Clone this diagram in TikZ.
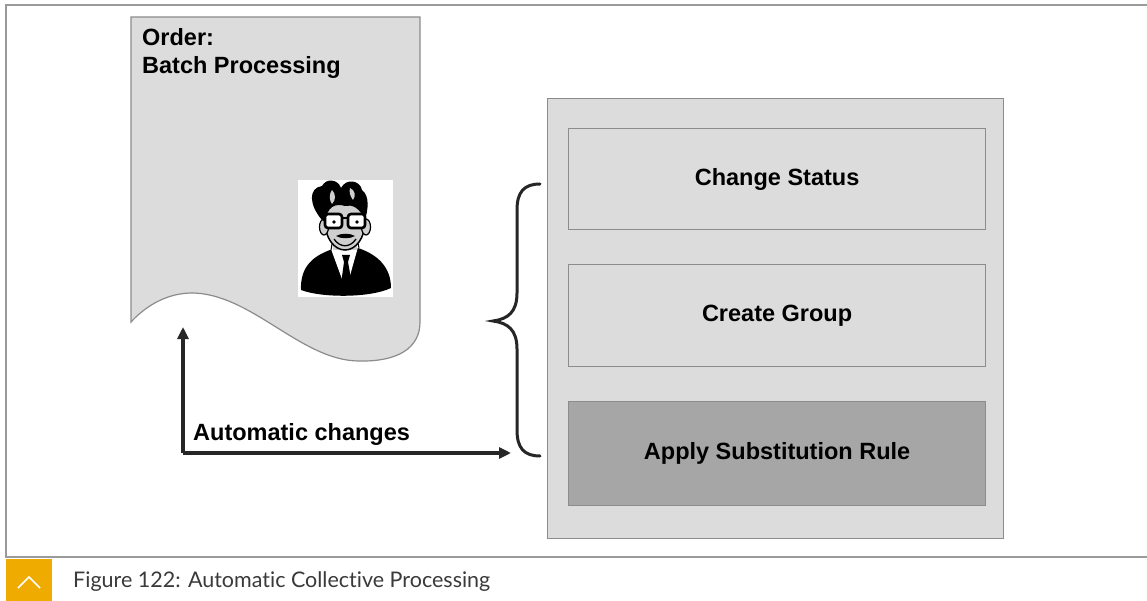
\documentclass[tikz,border=0pt]{standalone}
\usepackage{fontspec}
\setmainfont{Liberation Sans}
\newfontfamily\captionfont[Ligatures=NoCommon]{Lato}
\usetikzlibrary{arrows.meta}

\definecolor{panelfill}{HTML}{DCDCDC}
\definecolor{panelline}{HTML}{8C8C8C}
\definecolor{activefill}{HTML}{A6A6A6}
\definecolor{frameline}{HTML}{9A9A9A}
\definecolor{inkdark}{HTML}{262626}
\definecolor{sapgold}{HTML}{F0AB00}
\definecolor{captiontext}{HTML}{3A3A3A}
\definecolor{facegray}{HTML}{CFCFCF}

\tikzset{
  px/.style={x=1pt,y=-1pt},
  lbl/.style={font=\fontsize{23.5}{28}\selectfont\bfseries, text=black, inner sep=0pt},
  panel/.style={draw=panelline, line width=1.2pt, fill=panelfill},
  stepbox/.style={draw=panelline, line width=1.2pt, fill=panelfill},
  activebox/.style={draw=panelline, line width=1.2pt, fill=activefill},
  flow/.style={draw=inkdark, line width=3.2pt, -{Triangle[length=12pt,width=11pt]}},
  bracestroke/.style={draw=inkdark, line width=3pt, line cap=round},
}

\begin{document}
\begin{tikzpicture}[px]
  \useasboundingbox (0,0) rectangle (1147,601);
  \fill[white] (0,0) rectangle (1147,601);

  % outer frame (open on the right)
  \draw[frameline, line width=2pt] (1147,5) -- (6,5) -- (6,557) -- (1147,557);

  % caption bar
  \fill[sapgold] (6,559) rectangle (52,601);
  \draw[white, line width=1.5pt] (18,588) -- (29,577) -- (40,588);
  \node[anchor=base west, inner sep=0pt, font=\captionfont\fontsize{21.5}{26}\selectfont, text=captiontext]
    (caption) at (73,587) {Figure 122: Automatic Collective Processing};

  % order document with wavy bottom edge
  \path[draw=panelline, line width=1.2pt, fill=panelfill]
    (131,17) -- (420,17) -- (420,322)
    .. controls (420,348) and (398,362) .. (358,361)
    .. controls (300,360) and (250,292) .. (190,293)
    .. controls (162,294) and (142,310) .. (131,322) -- cycle;
  \node[lbl, anchor=north west, align=left] (doctitle) at (142,28) {Order:\\Batch Processing};

  % portrait of the clerk
  \node[fill=white, minimum width=95pt, minimum height=117pt, inner sep=0pt, anchor=north west] (portrait) at (298,180) {};
  \begin{scope}
    % suit
    \fill[black] (301,290) .. controls (300,266) and (314,256) .. (330,250)
      -- (358,248) .. controls (376,254) and (391,266) .. (391,288)
      .. controls (370,298) and (322,298) .. cycle;
    % shirt collar
    \fill[white] (331,249) -- (358,247) -- (346,290) -- cycle;
    % tie
    \fill[black] (342,255) -- (350,255) -- (348,262) -- (352,284) -- (346,291) -- (341,284) -- (344,262) -- cycle;
    % neck
    \fill[facegray] (333,238) rectangle (357,250);
    \draw[black, line width=1pt] (333,238) -- (331,250) (357,238) -- (359,248);
    % face
    \filldraw[fill=facegray, draw=black, line width=1.5pt] (345,222) ellipse [x radius=20pt, y radius=28pt];
    % ears
    \filldraw[fill=facegray, draw=black, line width=1.2pt] (324,227) ellipse [x radius=4.5pt, y radius=8pt];
    \filldraw[fill=facegray, draw=black, line width=1.2pt] (366,227) ellipse [x radius=4.5pt, y radius=8pt];
    % hair
    \fill[black] (322,220) .. controls (309,205) and (308,188) .. (322,186)
      .. controls (326,178) and (338,179) .. (341,188)
      .. controls (346,178) and (360,180) .. (362,190)
      .. controls (370,196) and (368,210) .. (365,220)
      .. controls (360,208) and (352,204) .. (345,206)
      .. controls (336,203) and (327,206) .. (325,222) -- cycle;
    \fill[facegray] (332,190) .. controls (336,194) and (336,200) .. (332,204)
      .. controls (329,200) and (329,194) .. cycle;
    \fill[facegray] (350,188) .. controls (355,190) and (356,196) .. (353,200)
      .. controls (350,196) and (349,192) .. cycle;
    % glasses
    \filldraw[fill=white, draw=black, line width=2.6pt, rounded corners=3pt] (325,214) rectangle (342,228);
    \filldraw[fill=white, draw=black, line width=2.6pt, rounded corners=3pt] (348,214) rectangle (365,228);
    \draw[black, line width=2.2pt] (342,218) -- (348,218);
    \fill[black] (334,222) circle (1.8pt) (357,222) circle (1.8pt);
    % moustache and smile
    \fill[black] (336,236) .. controls (341,233) and (350,233) .. (355,236)
      .. controls (350,239) and (341,239) .. cycle;
    \draw[black, line width=1.3pt] (334,239) .. controls (340,248) and (350,248) .. (356,239);
  \end{scope}

  % processing steps panel
  \node[panel, minimum width=456pt, minimum height=440pt, anchor=north west, inner sep=0pt] (steps) at (547,98) {};
  \node[stepbox, minimum width=417pt, minimum height=101pt, anchor=north west, inner sep=0pt] (status) at (568,128) {};
  \node[lbl] at (status.center) {Change Status};
  \node[stepbox, minimum width=417pt, minimum height=102pt, anchor=north west, inner sep=0pt] (group) at (568,264) {};
  \node[lbl] at (group.center) {Create Group};
  \node[activebox, minimum width=417pt, minimum height=104pt, anchor=north west, inner sep=0pt] (subst) at (568,401) {};
  \node[lbl] at (subst.center) {Apply Substitution Rule};

  % curly brace spanning the steps
  \coordinate (bracetop) at (540,184);
  \coordinate (bracetip) at (493,321);
  \coordinate (bracebot) at (540,456);
  \draw[bracestroke] (bracetop)
    .. controls (524,184) and (517,192) .. (517,210)
    -- (517,293)
    .. controls (517,312) and (508,319) .. (bracetip)
    .. controls (508,323) and (517,330) .. (517,349)
    -- (517,430)
    .. controls (517,448) and (524,456) .. (bracebot);

  % automatic changes feedback arrow
  \coordinate (docfoot) at (183,327);
  \coordinate (corner) at (183,453);
  \coordinate (stepsin) at (511,453);
  \draw[flow] (corner) -- (docfoot);
  \draw[flow] (corner) -- (stepsin);
  \node[lbl, anchor=base west] (autolabel) at (193,440) {Automatic changes};
\end{tikzpicture}
\end{document}
